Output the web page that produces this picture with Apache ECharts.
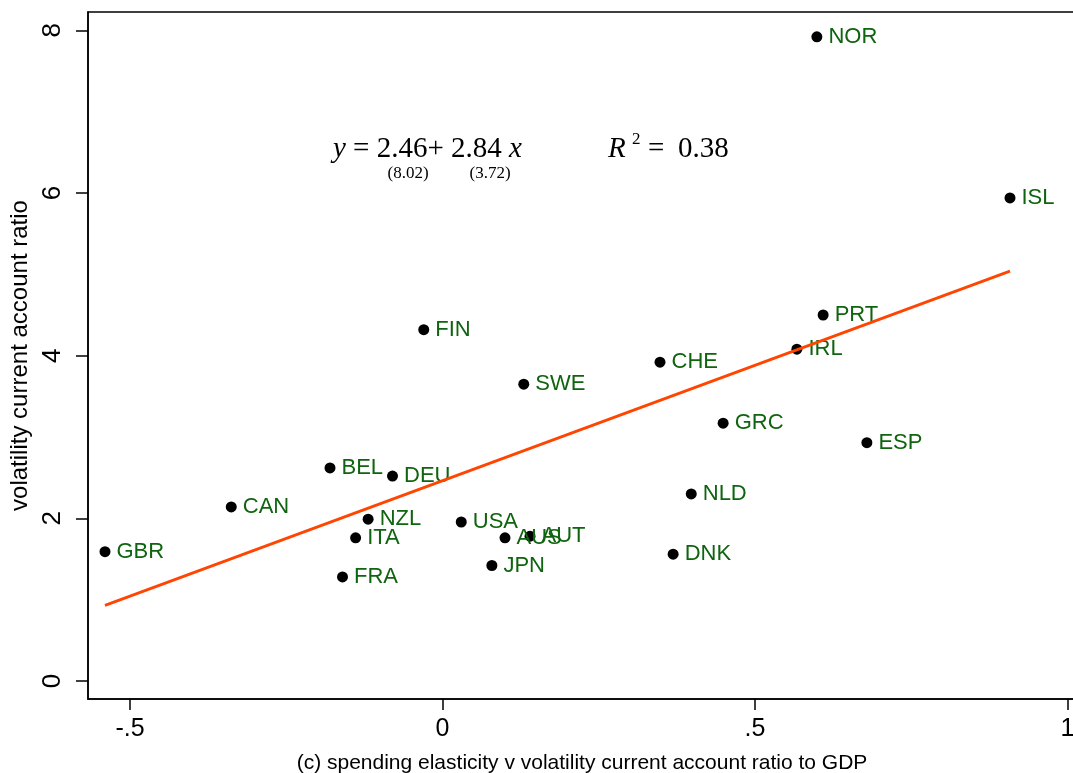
<!DOCTYPE html>
<html>
<head>
<meta charset="utf-8">
<script src="https://cdn.jsdelivr.net/npm/echarts@6/dist/echarts.min.js"></script>
<style>
  html, body { margin: 0; padding: 0; background: #fff; }
  #chart { width: 1073px; height: 773px; }
</style>
</head>
<body>
<div id="chart"></div>
<script>
// countries and their values
var countries = ["NOR", "ISL", "PRT", "IRL", "CHE", "FIN", "SWE", "GRC", "ESP", "NLD", "DNK",
                 "BEL", "DEU", "NZL", "ITA", "FRA", "USA", "AUS", "AUT", "JPN", "CAN", "GBR"];
var elasticity = [0.599, 0.908, 0.609, 0.567, 0.348, -0.030, 0.130, 0.449, 0.679, 0.398, 0.369,
                  -0.180, -0.080, -0.119, -0.139, -0.160, 0.030, 0.100, 0.140, 0.079, -0.338, -0.540];
var volatility = [7.92, 5.94, 4.50, 4.08, 3.92, 4.32, 3.65, 3.17, 2.93, 2.30, 1.56,
                  2.62, 2.52, 1.99, 1.76, 1.28, 1.955, 1.76, 1.78, 1.42, 2.14, 1.59];
// fitted line end points (y = 2.46 + 2.84x)
var fitX = [-0.540, 0.908];
var fitY = [0.93, 5.04];

var xTicks = [-0.5, 0, 0.5, 1];
var yTicks = [0, 2, 4, 6, 8];

var points = [];
for (var i = 0; i < countries.length; i++) {
    points.push({ value: [elasticity[i], volatility[i]], name: countries[i] });
}
var fitData = [];
for (var j = 0; j < fitX.length; j++) {
    fitData.push([fitX[j], fitY[j]]);
}

function stataNum(v) {
    if (v === 0) return "0";
    var s = String(v);
    return s.replace("0.", ".");
}

var sans = "'Liberation Sans', Arial, sans-serif";
var serif = "'Liberation Serif', 'Times New Roman', serif";

var chart = echarts.init(document.getElementById("chart"), null, { renderer: "canvas" });
chart.setOption({
    animation: false,
    backgroundColor: "#fff",
    grid: {
        left: 88, top: 12, right: -3, bottom: 74,
        outerBoundsMode: "none",
        containLabel: false,
        show: true, borderColor: "#000", borderWidth: 1.5
    },
    xAxis: {
        type: "value",
        min: -0.5672, max: 1.0136,
        name: "(c) spending elasticity v volatility current account ratio to GDP",
        nameLocation: "middle",
        nameGap: 54,
        nameTextStyle: { fontFamily: sans, fontSize: 21, color: "#000" },
        axisLine: { show: true, onZero: false, lineStyle: { color: "#000", width: 1.5 } },
        axisTick: { show: true, length: 11, customValues: xTicks, lineStyle: { color: "#000", width: 1.5 } },
        axisLabel: {
            customValues: xTicks, formatter: stataNum, margin: 18,
            fontFamily: sans, fontSize: 25, color: "#000"
        },
        splitLine: { show: false }
    },
    yAxis: {
        type: "value",
        min: -0.2213, max: 8.2257,
        name: "volatility current account ratio",
        nameLocation: "middle",
        nameGap: 54,
        nameTextStyle: { fontFamily: sans, fontSize: 24, color: "#000" },
        axisLine: { show: true, onZero: false, lineStyle: { color: "#000", width: 1.5 } },
        axisTick: { show: true, length: 12, customValues: yTicks, lineStyle: { color: "#000", width: 1.5 } },
        axisLabel: {
            customValues: yTicks, formatter: stataNum, rotate: 90, margin: 22,
            fontFamily: sans, fontSize: 26, color: "#000"
        },
        splitLine: { show: false }
    },
    series: [
        {
            type: "scatter",
            data: points,
            symbol: "circle",
            symbolSize: 11,
            itemStyle: { color: "#000", opacity: 1 },
            label: {
                show: true,
                position: "right",
                distance: 6,
                formatter: function (p) { return p.name; },
                fontFamily: sans,
                fontSize: 22,
                color: "#0f640f"
            },
            z: 2
        },
        {
            type: "line",
            data: fitData,
            symbol: "none",
            lineStyle: { color: "#ff4500", width: 2.8 },
            z: 3
        }
    ],
    graphic: [
        {
            type: "text", left: 333, top: 135,
            style: {
                text: "{i|y} = 2.46+ 2.84 {i|x}",
                font: "29px " + serif, fill: "#000",
                rich: { i: { fontStyle: "italic", fontFamily: serif, fontSize: 29 } }
            }
        },
        {
            type: "text",
            style: { x: 408, y: 174, text: "(8.02)", font: "17px " + serif, fill: "#000", align: "center", verticalAlign: "middle" }
        },
        {
            type: "text",
            style: { x: 490, y: 174, text: "(3.72)", font: "17px " + serif, fill: "#000", align: "center", verticalAlign: "middle" }
        },
        {
            type: "text",
            style: { x: 608, y: 149, text: "R", font: "italic 29px " + serif, fill: "#000", verticalAlign: "middle" }
        },
        {
            type: "text",
            style: { x: 632, y: 140, text: "2", font: "17px " + serif, fill: "#000", verticalAlign: "middle" }
        },
        {
            type: "text",
            style: { x: 648, y: 149, text: "=", font: "29px " + serif, fill: "#000", verticalAlign: "middle" }
        },
        {
            type: "text",
            style: { x: 678, y: 149, text: "0.38", font: "29px " + serif, fill: "#000", verticalAlign: "middle" }
        }
    ]
});
</script>
</body>
</html>
